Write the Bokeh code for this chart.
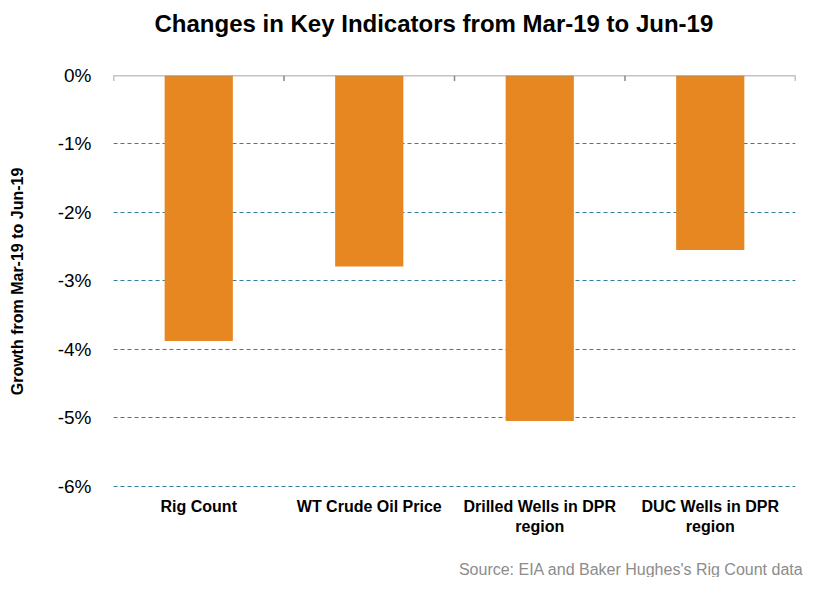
from bokeh.plotting import figure
from bokeh.models import ColumnDataSource, Range1d, FactorRange, Span, Title, FixedTicker, CustomJSTickFormatter
from bokeh.embed import file_html
from bokeh.resources import INLINE

categories = ["Rig Count", "WT Crude Oil Price", "Drilled Wells in DPR\nregion", "DUC Wells in DPR\nregion"]
growth_pct = [-3.88, -2.79, -5.05, -2.55]
y_ticks = [0, -1, -2, -3, -4, -5, -6]

FONT = "Liberation Sans"

src = ColumnDataSource(dict(cat=categories, val=growth_pct))

p = figure(width=817, height=577, output_backend="svg", toolbar_location=None, title=None,
           x_range=FactorRange(*categories, range_padding=0), y_range=Range1d(-6.02, 0),
           min_border_left=113, min_border_right=22, min_border_top=75, min_border_bottom=90)
p.outline_line_color = None

# spacer + main title (later-added titles sit farther from the frame)
p.add_layout(Title(text=" ", text_font_size="10px", standoff=26), "above")
p.add_layout(Title(text="Changes in Key Indicators from Mar-19 to Jun-19", align="left", offset=41,
                   standoff=0, text_font=FONT, text_font_size="24px", text_font_style="bold",
                   text_color="#000000"), "above")

p.vbar(x="cat", top="val", bottom=0, width=0.4, source=src, color="#E68722", line_color=None)

# gridlines
p.xgrid.grid_line_color = None
p.ygrid.grid_line_color = "#2F7F9E"
p.ygrid.grid_line_dash = "4 3"
p.ygrid.grid_line_width = 1
p.ygrid.ticker = FixedTicker(ticks=[t for t in y_ticks if t != 0])

# zero line and category boundary ticks
p.add_layout(Span(location=0, dimension="width", line_color="#888888", line_width=1.5))
n = len(categories)
p.segment(x0=list(range(n + 1)), y0=[0] * (n + 1), x1=list(range(n + 1)), y1=[-0.08] * (n + 1),
          line_color="#888888", line_width=1.5)

# y axis
p.yaxis.ticker = FixedTicker(ticks=y_ticks)
p.yaxis.formatter = CustomJSTickFormatter(code="return tick.toFixed(0) + '%';")
p.yaxis.axis_line_color = None
p.yaxis.major_tick_line_color = None
p.yaxis.minor_tick_line_color = None
p.yaxis.major_label_standoff = 16
p.yaxis.major_label_text_font = FONT
p.yaxis.major_label_text_font_size = "19px"
p.yaxis.major_label_text_color = "#000000"
p.yaxis.axis_label = "Growth from Mar-19 to Jun-19"
p.yaxis.axis_label_text_font = FONT
p.yaxis.axis_label_text_font_size = "16px"
p.yaxis.axis_label_text_font_style = "bold"
p.yaxis.axis_label_text_color = "#000000"
p.yaxis.axis_label_standoff = 29

# x axis
p.xaxis.axis_line_color = None
p.xaxis.major_tick_line_color = None
p.xaxis.minor_tick_line_color = None
p.xaxis.major_label_standoff = 4
p.xaxis.major_label_text_font = FONT
p.xaxis.major_label_text_font_size = "16px"
p.xaxis.major_label_text_font_style = "bold"
p.xaxis.major_label_text_color = "#000000"

# spacer + source note below
p.add_layout(Title(text=" ", text_font_size="10px", standoff=8), "below")
p.add_layout(Title(text="Source: EIA and Baker Hughes's Rig Count data", align="right",
                   text_font=FONT, text_font_size="16px", text_font_style="normal",
                   text_color="#8C8C8C", standoff=0, offset=-8), "below")

open("out.html", "w").write(file_html(p, INLINE))
